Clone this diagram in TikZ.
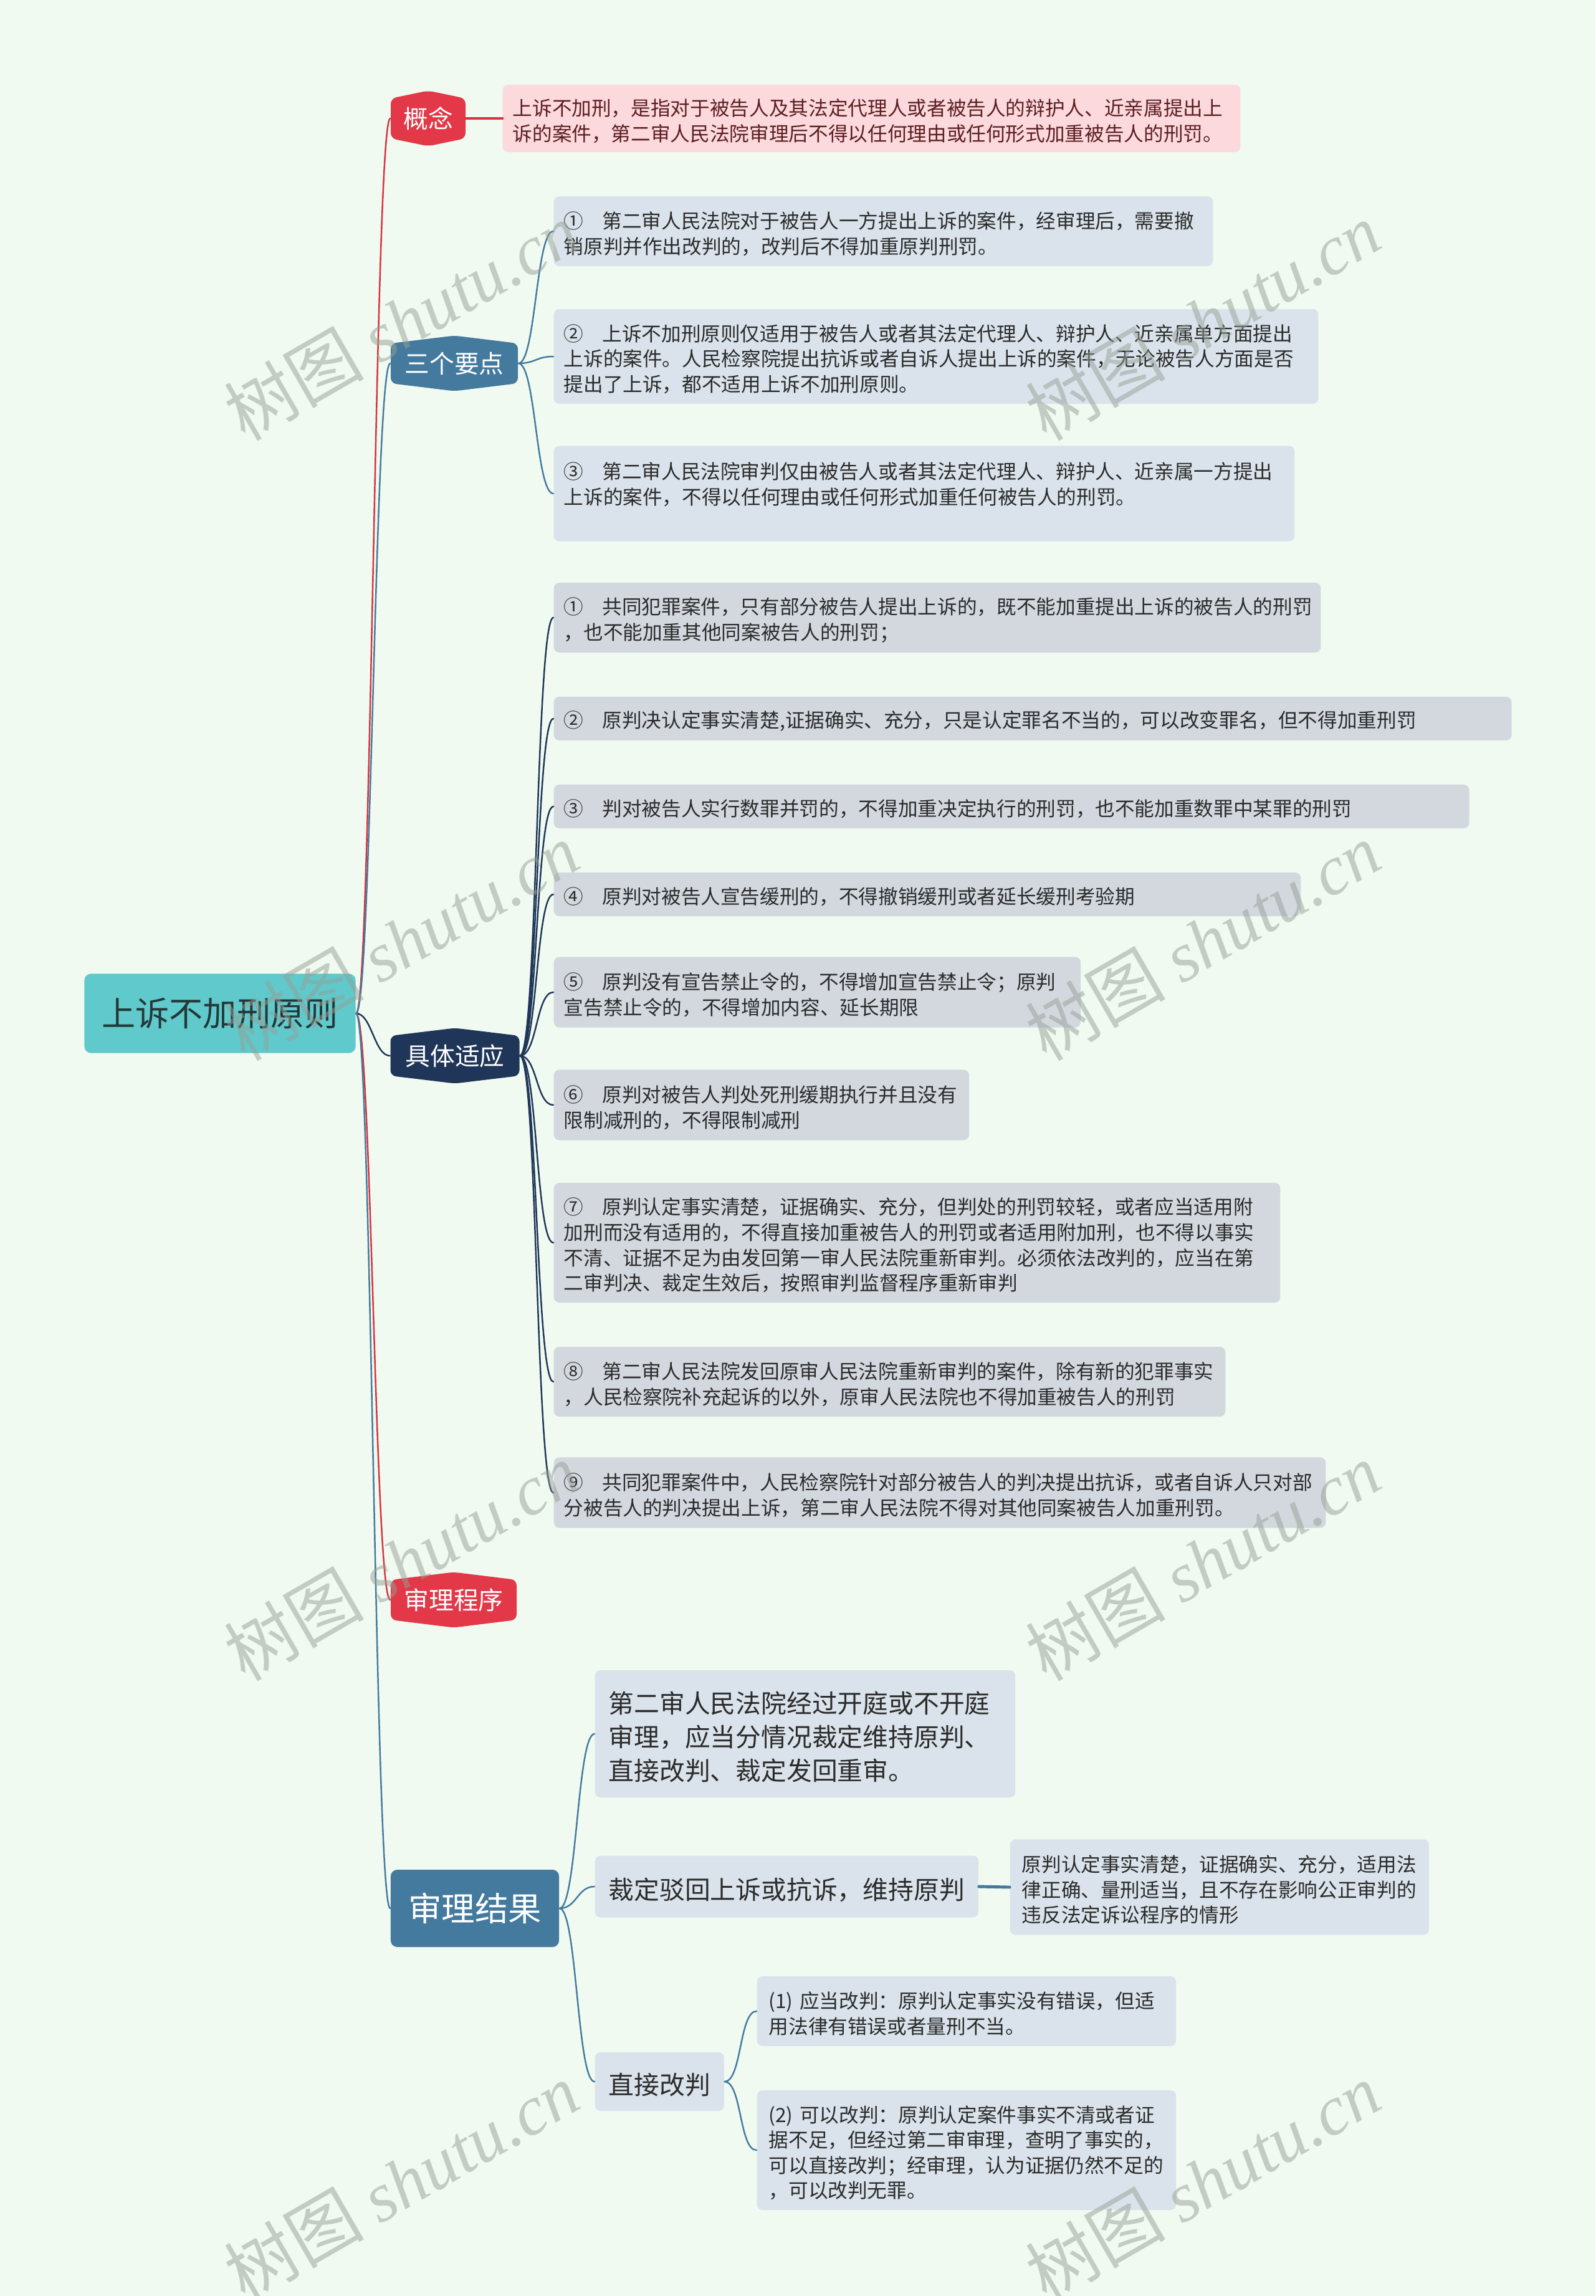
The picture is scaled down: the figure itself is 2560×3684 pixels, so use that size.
\documentclass[tikz,border=0pt]{standalone}
\usepackage{fontspec}
\setmainfont{Noto Sans CJK SC}
\newfontfamily\wmserif{Liberation Serif}
\usepackage{tikz}

\definecolor{bgmint}{HTML}{F0FAF0}
\definecolor{rootteal}{HTML}{5FC9CC}
\definecolor{roottext}{HTML}{253737}
\definecolor{hexred}{HTML}{E23847}
\definecolor{linered}{HTML}{D8323F}
\definecolor{pinkbox}{HTML}{FBD9DD}
\definecolor{pinktext}{HTML}{5C1F22}
\definecolor{steelblue}{HTML}{447A9E}
\definecolor{bluebox}{HTML}{DAE3EB}
\definecolor{navy}{HTML}{1F3659}
\definecolor{graybox}{HTML}{D3D8DF}
\definecolor{txtdark}{HTML}{2B2B2B}
\definecolor{wmgray}{HTML}{96A096}

% hexagon with pointed top and bottom: centre x, centre y, width, height (px), colour
\newcommand{\hexfill}[5]{%
  \fill[#5, rounded corners=2.5pt] ({#1},{#2-#4/2}) -- ({#1+#3/2},{#2-0.36*#4})
    -- ({#1+#3/2},{#2+0.36*#4}) -- ({#1},{#2+#4/2}) -- ({#1-#3/2},{#2+0.36*#4})
    -- ({#1-#3/2},{#2-0.36*#4}) -- cycle;}
\newcommand{\circnum}[1]{#1\kern.95em}

\begin{document}
\begin{tikzpicture}[x=0.01cm, y=-0.01cm, line cap=round,
    fsmall/.style={font=\fontsize{9}{11.55}\selectfont, text height=10pt},
    fmid/.style={font=\fontsize{11.6}{15.35}\selectfont, text height=12.9pt},
    leaf/.style={anchor=west, align=left, inner xsep=0.16cm, inner ysep=0pt,
      rounded corners=2.5pt, text=txtdark, fsmall},
    midleaf/.style={leaf, inner xsep=0.22cm, fmid},
    hexlabel/.style={text=white, font=\fontsize{11.3}{13}\selectfont,
      minimum height=0.89cm, inner sep=0pt},
    link/.style={line width=0.7pt},
    wmark/.style={rotate=30, text=wmgray, text opacity=0.5, font=\fontsize{32}{32}\selectfont}]
  \useasboundingbox (0,0) rectangle (2560,3684);
  \fill[bgmint] (0,0) rectangle (2560,3684);

  % root
  \node[fill=rootteal, rounded corners=3pt, minimum width=4.35cm, minimum height=1.27cm,
    text=roottext, font=\fontsize{15.4}{18}\selectfont] (root) at (353,1626) {上诉不加刑原则};

  % first level
  \hexfill{687}{190}{120}{89}{hexred}
  \hexfill{729}{583}{204}{89}{steelblue}
  \hexfill{730}{1694}{207}{89}{navy}
  \hexfill{728}{2567}{202}{89}{hexred}
  \node[hexlabel, minimum width=1.20cm] (gainian) at (687,190) {概念};
  \node[hexlabel, minimum width=2.04cm] (yaodian) at (729,583) {三个要点};
  \node[hexlabel, minimum width=2.07cm] (shiying) at (730,1694) {具体适应};
  \node[hexlabel, minimum width=2.02cm] (chengxu) at (728,2567) {审理程序};
  \node[fill=steelblue, rounded corners=3pt, minimum width=2.70cm, minimum height=1.24cm,
    text=white, font=\fontsize{15.2}{18}\selectfont] (jieguo) at (762,3062) {审理结果};

  % 概念
  \node[leaf, fill=pinkbox, text=pinktext, text width=11.51cm, minimum height=1.08cm] (gnt) at (806,190)
    {上诉不加刑，是指对于被告人及其法定代理人或者被告人的辩护人、近亲属提出上\\诉的案件，第二审人民法院审理后不得以任何理由或任何形式加重被告人的刑罚。};

  % 三个要点
  \node[leaf, fill=bluebox, text width=10.25cm, minimum height=1.12cm] (yd1) at (888,371)
    {\circnum{①}第二审人民法院对于被告人一方提出上诉的案件，经审理后，需要撤\\销原判并作出改判的，改判后不得加重原判刑罚。};
  \node[leaf, fill=bluebox, text width=11.94cm, minimum height=1.52cm] (yd2) at (888,572)
    {\circnum{②}上诉不加刑原则仅适用于被告人或者其法定代理人、辩护人、近亲属单方面提出\\上诉的案件。人民检察院提出抗诉或者自诉人提出上诉的案件，无论被告人方面是否\\提出了上诉，都不适用上诉不加刑原则。};
  \node[leaf, fill=bluebox, text width=11.56cm, minimum height=1.53cm] (yd3) at (888,792)
    {\circnum{③}第二审人民法院审判仅由被告人或者其法定代理人、辩护人、近亲属一方提出\\上诉的案件，不得以任何理由或任何形式加重任何被告人的刑罚。\\\mbox{}};

  % 具体适应
  \node[leaf, fill=graybox, text width=11.98cm, minimum height=1.12cm] (sy1) at (888,991)
    {\circnum{①}共同犯罪案件，只有部分被告人提出上诉的，既不能加重提出上诉的被告人的刑罚\\，也不能加重其他同案被告人的刑罚；};
  \node[leaf, fill=graybox, text width=15.04cm, minimum height=0.70cm] (sy2) at (888,1153)
    {\circnum{②}原判决认定事实清楚,证据确实、充分，只是认定罪名不当的，可以改变罪名，但不得加重刑罚};
  \node[leaf, fill=graybox, text width=14.36cm, minimum height=0.70cm] (sy3) at (888,1294)
    {\circnum{③}判对被告人实行数罪并罚的，不得加重决定执行的刑罚，也不能加重数罪中某罪的刑罚};
  \node[leaf, fill=graybox, text width=11.66cm, minimum height=0.70cm] (sy4) at (888,1435)
    {\circnum{④}原判对被告人宣告缓刑的，不得撤销缓刑或者延长缓刑考验期};
  \node[leaf, fill=graybox, text width=8.13cm, minimum height=1.13cm] (sy5) at (888,1592)
    {\circnum{⑤}原判没有宣告禁止令的，不得增加宣告禁止令；原判\\宣告禁止令的，不得增加内容、延长期限};
  \node[leaf, fill=graybox, text width=6.34cm, minimum height=1.13cm] (sy6) at (888,1773)
    {\circnum{⑥}原判对被告人判处死刑缓期执行并且没有\\限制减刑的，不得限制减刑};
  \node[leaf, fill=graybox, text width=11.33cm, minimum height=1.92cm] (sy7) at (888,1994)
    {\circnum{⑦}原判认定事实清楚，证据确实、充分，但判处的刑罚较轻，或者应当适用附\\加刑而没有适用的，不得直接加重被告人的刑罚或者适用附加刑，也不得以事实\\不清、证据不足为由发回第一审人民法院重新审判。必须依法改判的，应当在第\\二审判决、裁定生效后，按照审判监督程序重新审判};
  \node[leaf, fill=graybox, text width=10.45cm, minimum height=1.12cm] (sy8) at (888,2217)
    {\circnum{⑧}第二审人民法院发回原审人民法院重新审判的案件，除有新的犯罪事实\\，人民检察院补充起诉的以外，原审人民法院也不得加重被告人的刑罚};
  \node[leaf, fill=graybox, text width=12.06cm, minimum height=1.13cm] (sy9) at (888,2395)
    {\circnum{⑨}共同犯罪案件中，人民检察院针对部分被告人的判决提出抗诉，或者自诉人只对部\\分被告人的判决提出上诉，第二审人民法院不得对其他同案被告人加重刑罚。};

  % 审理结果
  \node[midleaf, fill=bluebox, text width=6.30cm, minimum height=2.04cm] (jg1) at (954,2782)
    {第二审人民法院经过开庭或不开庭\\审理，应当分情况裁定维持原判、\\直接改判、裁定发回重审。};
  \node[midleaf, fill=bluebox, text width=5.71cm, minimum height=0.99cm] (jg2) at (954,3027)
    {裁定驳回上诉或抗诉，维持原判};
  \node[leaf, inner xsep=0.19cm, fill=bluebox, text width=6.34cm, minimum height=1.53cm] (jg2a) at (1620,3028)
    {原判认定事实清楚，证据确实、充分，适用法\\律正确、量刑适当，且不存在影响公正审判的\\违反法定诉讼程序的情形};
  \node[midleaf, fill=bluebox, text width=1.63cm, minimum height=0.94cm] (jg3) at (954,3340)
    {直接改判};
  \node[leaf, inner xsep=0.19cm, fill=bluebox, text width=6.34cm, minimum height=1.12cm] (jg3a) at (1214,3227)
    {(1) 应当改判：原判认定事实没有错误，但适\\用法律有错误或者量刑不当。};
  \node[leaf, inner xsep=0.19cm, fill=bluebox, text width=6.34cm, minimum height=1.92cm] (jg3b) at (1214,3450)
    {(2) 可以改判：原判认定案件事实不清或者证\\据不足，但经过第二审审理，查明了事实的，\\可以直接改判；经审理，认为证据仍然不足的\\，可以改判无罪。};

  % connectors
  \foreach \n/\c in {gainian/linered, yaodian/steelblue, shiying/navy, chengxu/linered, jieguo/steelblue}
    \draw[link, \c] (root.east) .. controls +(25,0) and +(-25,0) .. (\n.west);
  \draw[linered, line width=1.4pt] (gainian.east) -- (gnt.west);
  \foreach \i in {1,2,3}
    \draw[link, steelblue] (yaodian.east) .. controls +(28,0) and +(-28,0) .. (yd\i.west);
  \foreach \i in {1,...,9}
    \draw[link, navy] (shiying.east) .. controls +(28,0) and +(-28,0) .. (sy\i.west);
  \foreach \i in {1,2,3}
    \draw[link, steelblue] (jieguo.east) .. controls +(28,0) and +(-28,0) .. (jg\i.west);
  \draw[steelblue, line width=1.4pt] (jg2.east) -- (jg2a.west);
  \foreach \n in {jg3a,jg3b}
    \draw[link, steelblue] (jg3.east) .. controls +(28,0) and +(-28,0) .. (\n.west);

  % watermarks
  \foreach \wx/\wy [count=\k] in {644/515,1930/515,644/1510,1930/1510,644/2505,1930/2505,644/3500,1930/3500}
    \node[wmark] (wm\k) at (\wx,\wy) {树图 {\wmserif\itshape shutu.cn}};
\end{tikzpicture}
\end{document}
